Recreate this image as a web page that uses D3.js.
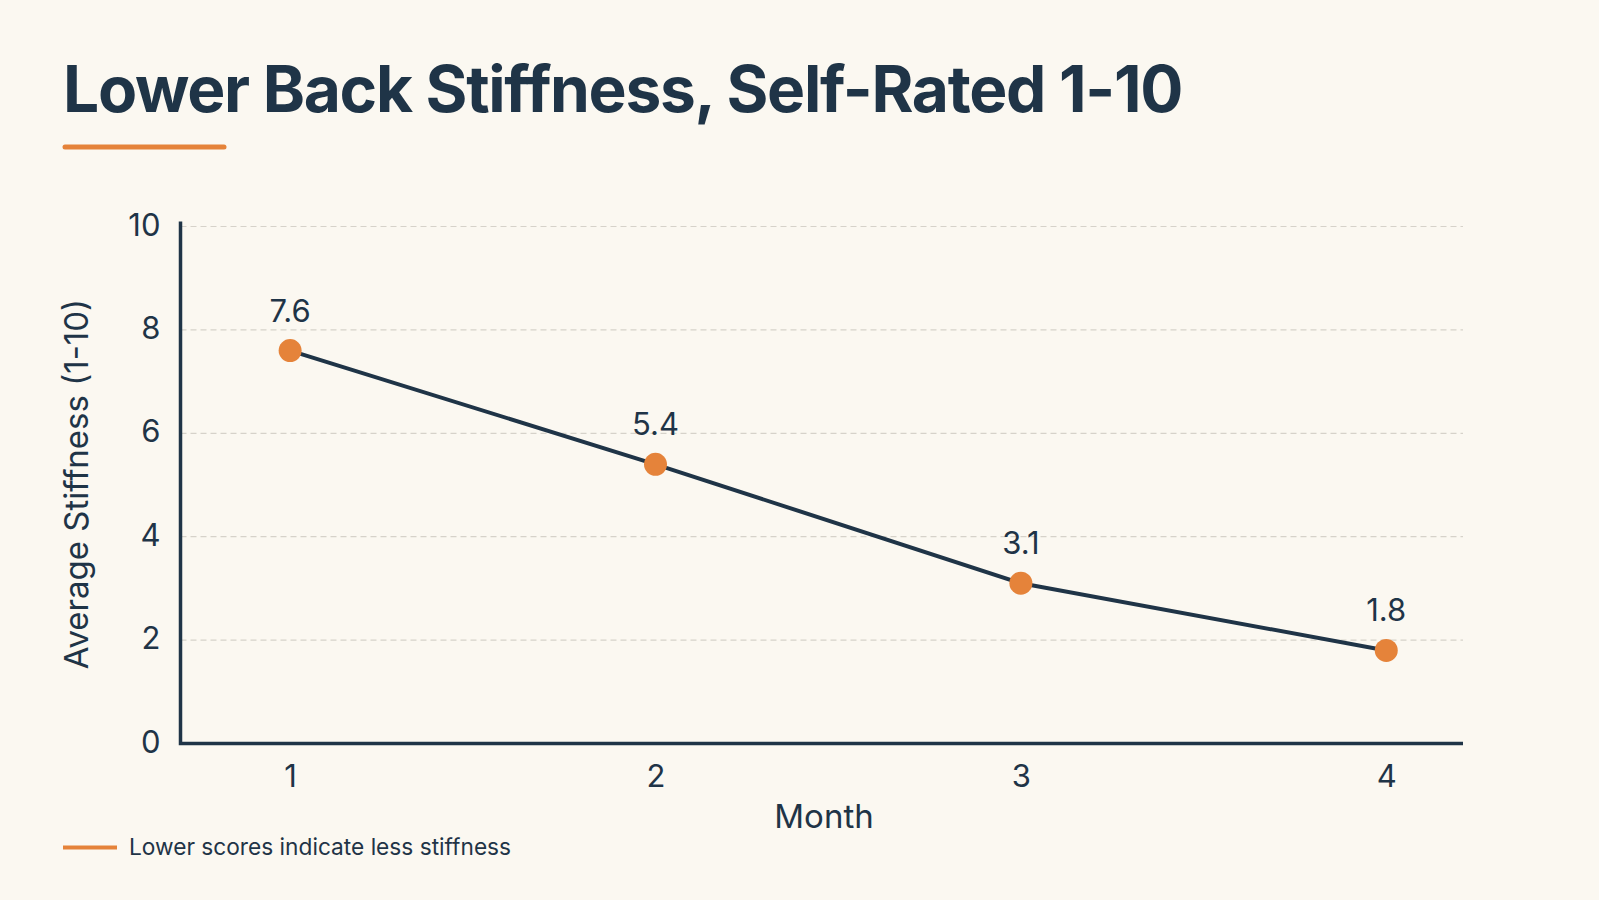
<!DOCTYPE html>
<html><head><meta charset="utf-8">
<script src="https://cdn.jsdelivr.net/npm/d3@7"></script>
<style>
html,body{margin:0;padding:0;background:#fbf8f1;}
svg{display:block;}
text{font-family:Inter,"Liberation Sans",sans-serif;fill:#1f3447;}
</style></head>
<body>
<script>
const months = [1, 2, 3, 4];
const stiffness = [7.6, 5.4, 3.1, 1.8];
const yTicks = [0, 2, 4, 6, 8, 10];
const title = "Lower Back Stiffness, Self-Rated 1-10";
const xTitle = "Month";
const yTitle = "Average Stiffness (1-10)";
const note = "Lower scores indicate less stiffness";

const W = 1599, H = 900;
const navy = "#1f3447", orange = "#e5833a", grid = "#d6d2ca";
const svg = d3.select("body").append("svg").attr("width", W).attr("height", H);
svg.append("rect").attr("width", W).attr("height", H).attr("fill", "#fbf8f1");

const plot = {left: 180.5, right: 1463, top: 226.5, bottom: 743.5};
const x = d3.scaleLinear().domain([0.7, 4.21]).range([plot.left, plot.right]);
const y = d3.scaleLinear().domain([0, 10]).range([plot.bottom, plot.top]);

// title
svg.append("text").attr("x", 63).attr("y", 112).attr("font-size", 64).attr("font-weight", 700)
  .attr("letter-spacing", -1.3).text(title);
svg.append("line").attr("x1", 65).attr("x2", 224).attr("y1", 147).attr("y2", 147)
  .attr("stroke", orange).attr("stroke-width", 5).attr("stroke-linecap", "round");

// grid
svg.append("g").selectAll("line").data(yTicks.filter(d => d > 0)).join("line")
  .attr("x1", plot.left).attr("x2", plot.right)
  .attr("y1", d => y(d)).attr("y2", d => y(d))
  .attr("stroke", grid).attr("stroke-width", 1.2).attr("stroke-dasharray", "6,4");

// y axis
const yAxis = svg.append("g").attr("transform", `translate(${plot.left},0)`)
  .call(d3.axisLeft(y).tickValues(yTicks).tickSize(0).tickPadding(20).tickFormat(d3.format("d")));
yAxis.select(".domain").remove();
yAxis.selectAll("text").attr("font-size", 31).attr("fill", navy).attr("dy", "0.28em");

// x axis
const xAxis = svg.append("g").attr("transform", `translate(0,${plot.bottom})`)
  .call(d3.axisBottom(x).tickValues(months).tickSize(0).tickPadding(21).tickFormat(d3.format("d")));
xAxis.select(".domain").remove();
xAxis.selectAll("text").attr("font-size", 31).attr("fill", navy);

// axis lines
svg.append("path").attr("d", `M${plot.left},${plot.top - 5}V${plot.bottom}H${plot.right}`)
  .attr("fill", "none").attr("stroke", navy).attr("stroke-width", 3.5);

// axis titles
svg.append("text").attr("x", 824).attr("y", 828).attr("text-anchor", "middle")
  .attr("font-size", 33).text(xTitle);
svg.append("text").attr("transform", `translate(88,484) rotate(-90)`).attr("text-anchor", "middle")
  .attr("font-size", 33).text(yTitle);

// line
const data = months.map((m, i) => ({m, v: stiffness[i]}));
svg.append("path").datum(data)
  .attr("d", d3.line().x(d => x(d.m)).y(d => y(d.v)))
  .attr("fill", "none").attr("stroke", navy).attr("stroke-width", 4).attr("stroke-linejoin", "round");

svg.append("g").selectAll("circle").data(data).join("circle")
  .attr("cx", d => x(d.m)).attr("cy", d => y(d.v)).attr("r", 11.5).attr("fill", orange);

svg.append("g").selectAll("text").data(data).join("text")
  .attr("x", d => x(d.m)).attr("y", d => y(d.v) - 29).attr("text-anchor", "middle")
  .attr("font-size", 31).text(d => d3.format(".1f")(d.v));

// note
svg.append("line").attr("x1", 63).attr("x2", 117).attr("y1", 847.5).attr("y2", 847.5)
  .attr("stroke", orange).attr("stroke-width", 4);
svg.append("text").attr("x", 129).attr("y", 855).attr("font-size", 22.7).text(note);
</script>
</body></html>
